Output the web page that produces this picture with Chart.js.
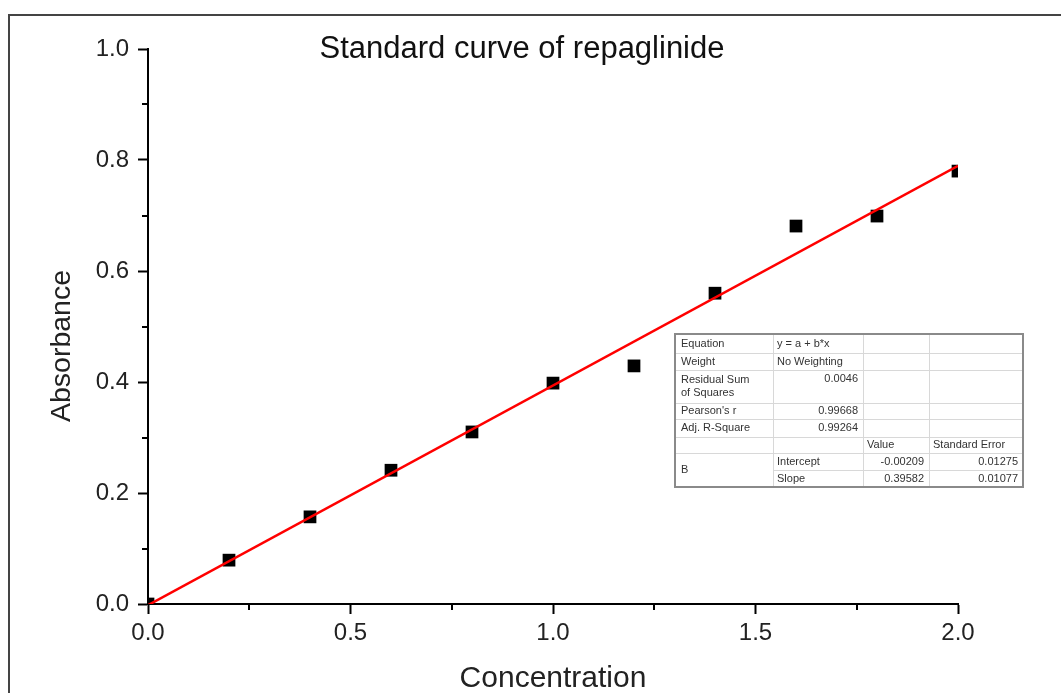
<!DOCTYPE html>
<html>
<head>
<meta charset="utf-8">
<script src="https://cdn.jsdelivr.net/npm/chart.js@4"></script>
<style>
  html, body { margin: 0; padding: 0; background: #fff; }
  #wrap { width: 1061px; height: 693px; position: relative; }
</style>
</head>
<body>
<div id="wrap"><canvas id="myChart" width="1061" height="693"></canvas></div>
<script>
const concentration = [0, 0.2, 0.4, 0.6, 0.8, 1.0, 1.2, 1.4, 1.6, 1.8, 2.0];
const absorbance = [0, 0.079, 0.157, 0.241, 0.31, 0.398, 0.429, 0.56, 0.681, 0.699, 0.78];

// linear fit from the table in the picture
const intercept = -0.00209;
const slope = 0.39582;
const fitX = [0, 2.0];

const minorX = [0.25, 0.75, 1.25, 1.75];
const minorY = [0.1, 0.3, 0.5, 0.7, 0.9];

const tableCol1 = ["Equation", "Weight", "Residual Sum|of Squares", "Pearson's r", "Adj. R-Square", "", "B", ""];
const tableCol2 = ["y = a + b*x", "No Weighting", "0.0046", "0.99668", "0.99264", "", "Intercept", "Slope"];
const tableCol3 = ["", "", "", "", "", "Value", "-0.00209", "0.39582"];
const tableCol4 = ["", "", "", "", "", "Standard Error", "0.01275", "0.01077"];

const FONT = "'Liberation Sans', Arial, sans-serif";

const extras = {
  id: "extras",
  beforeDraw(chart) {
    const ctx = chart.ctx;
    ctx.save();
    ctx.fillStyle = "#fff";
    ctx.fillRect(0, 0, chart.width, chart.height);
    // frame
    ctx.strokeStyle = "#444";
    ctx.lineWidth = 2;
    ctx.beginPath();
    ctx.moveTo(9, chart.height);
    ctx.lineTo(9, 15);
    ctx.lineTo(chart.width, 15);
    ctx.stroke();
    ctx.restore();
  },
  afterDraw(chart) {
    const ctx = chart.ctx;
    const xs = chart.scales.x, ys = chart.scales.y;
    ctx.save();
    // minor ticks
    ctx.strokeStyle = "#000";
    ctx.lineWidth = 2;
    ctx.beginPath();
    minorX.forEach(v => {
      const px = Math.round(xs.getPixelForValue(v));
      ctx.moveTo(px, ys.bottom);
      ctx.lineTo(px, ys.bottom + 6);
    });
    minorY.forEach(v => {
      const py = Math.round(ys.getPixelForValue(v));
      ctx.moveTo(xs.left, py);
      ctx.lineTo(xs.left - 6, py);
    });
    ctx.stroke();

    // title
    ctx.fillStyle = "#111";
    ctx.font = "31px " + FONT;
    ctx.textAlign = "center";
    ctx.textBaseline = "alphabetic";
    ctx.fillText("Standard curve of repaglinide", 522, 58);

    // y axis title (sits a little below the axis middle in the original)
    ctx.save();
    ctx.translate(62, 346);
    ctx.rotate(-Math.PI / 2);
    ctx.fillStyle = "#222";
    ctx.font = "28.5px " + FONT;
    ctx.textBaseline = "middle";
    ctx.fillText("Absorbance", 0, 0);
    ctx.restore();

    // fit table
    const cols = [675, 773, 863, 929, 1023];
    const rows = [334, 353, 370, 403, 419, 437, 453, 470, 487];
    ctx.fillStyle = "#fff";
    ctx.fillRect(cols[0], rows[0], cols[4] - cols[0], rows[8] - rows[0]);
    ctx.strokeStyle = "#d8d8d8";
    ctx.lineWidth = 1;
    ctx.beginPath();
    for (let i = 1; i < rows.length - 1; i++) {
      const startX = (i === 7) ? cols[1] : cols[0];
      ctx.moveTo(startX, rows[i] + 0.5);
      ctx.lineTo(cols[4], rows[i] + 0.5);
    }
    for (let j = 1; j < cols.length - 1; j++) {
      ctx.moveTo(cols[j] + 0.5, rows[0]);
      ctx.lineTo(cols[j] + 0.5, rows[8]);
    }
    ctx.stroke();
    ctx.strokeStyle = "#8a8a8a";
    ctx.lineWidth = 2;
    ctx.strokeRect(cols[0], rows[0], cols[4] - cols[0], rows[8] - rows[0]);

    ctx.fillStyle = "#333";
    ctx.font = "11px " + FONT;
    ctx.textBaseline = "middle";
    for (let i = 0; i < 8; i++) {
      let cy = (rows[i] + rows[i + 1]) / 2;
      if (i === 2) cy = rows[2] + 9;
      // column 1
      let t = tableCol1[i];
      ctx.textAlign = "left";
      if (t.includes("|")) {
        const parts = t.split("|");
        ctx.fillText(parts[0], cols[0] + 6, rows[2] + 10);
        ctx.fillText(parts[1], cols[0] + 6, rows[2] + 23);
      } else if (i === 6) {
        ctx.fillText(t, cols[0] + 6, (rows[6] + rows[8]) / 2);
      } else if (t) {
        ctx.fillText(t, cols[0] + 6, cy);
      }
      // column 2
      t = tableCol2[i];
      if (t) {
        if (i === 0 || i === 1 || i >= 6) {
          ctx.textAlign = "left";
          ctx.fillText(t, cols[1] + 4, cy);
        } else {
          ctx.textAlign = "right";
          ctx.fillText(t, cols[2] - 5, cy);
        }
      }
      // column 3
      t = tableCol3[i];
      if (t) {
        if (i === 5) { ctx.textAlign = "left"; ctx.fillText(t, cols[2] + 4, cy); }
        else { ctx.textAlign = "right"; ctx.fillText(t, cols[3] - 5, cy); }
      }
      // column 4
      t = tableCol4[i];
      if (t) {
        if (i === 5) { ctx.textAlign = "left"; ctx.fillText(t, cols[3] + 4, cy); }
        else { ctx.textAlign = "right"; ctx.fillText(t, cols[4] - 5, cy); }
      }
    }
    ctx.restore();
  }
};

new Chart("myChart", {
  type: "scatter",
  data: {
    datasets: [{
      label: "Linear fit",
      data: fitX.map(x => ({ x: x, y: intercept + slope * x })),
      showLine: true,
      borderColor: "#ff0000",
      borderWidth: 2.5,
      pointRadius: 0,
      clip: 0
    }, {
      label: "Absorbance",
      data: concentration.map((c, i) => ({ x: c, y: absorbance[i] })),
      pointStyle: "rect",
      pointRadius: 9,
      backgroundColor: "#000",
      borderColor: "#000",
      borderWidth: 0,
      clip: 0
    }]
  },
  options: {
    responsive: false,
    animation: false,
    layout: { padding: { top: 49, right: 103, left: 0, bottom: 0 } },
    scales: {
      x: {
        type: "linear",
        min: 0,
        max: 2,
        afterFit: s => { s.height = 89; },
        ticks: {
          stepSize: 0.5,
          callback: v => v.toFixed(1),
          font: { size: 24, family: FONT },
          color: "#222",
          padding: 5,
          maxRotation: 0
        },
        grid: { drawOnChartArea: false, tickLength: 10, tickWidth: 2, tickColor: "#000" },
        border: { color: "#000", width: 2 },
        title: {
          display: true,
          text: "Concentration",
          font: { size: 30, family: FONT },
          color: "#222",
          padding: { top: 0, bottom: -4 }
        }
      },
      y: {
        min: 0,
        max: 1,
        afterFit: s => { s.width = 148; },
        ticks: {
          stepSize: 0.2,
          callback: v => v.toFixed(1),
          font: { size: 24, family: FONT },
          color: "#222",
          padding: 9
        },
        grid: { drawOnChartArea: false, tickLength: 10, tickWidth: 2, tickColor: "#000" },
        border: { color: "#000", width: 2 },
        title: { display: false }
      }
    },
    plugins: {
      legend: { display: false },
      tooltip: { enabled: false }
    }
  },
  plugins: [extras]
});
</script>
</body>
</html>
